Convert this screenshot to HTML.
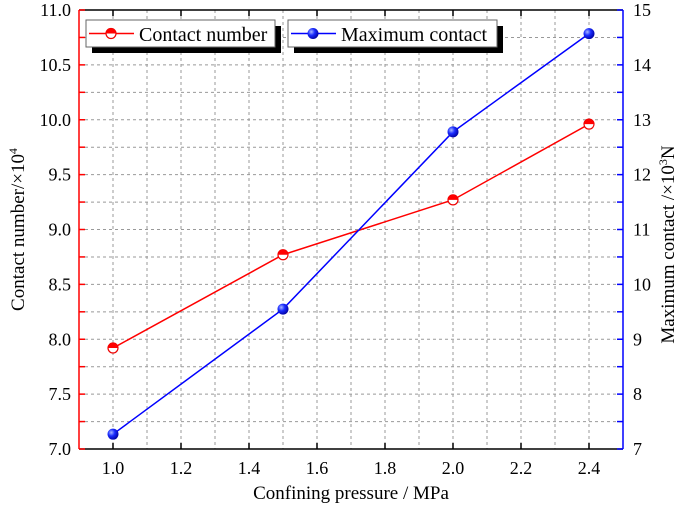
<!DOCTYPE html>
<html><head><meta charset="utf-8"><style>
body{margin:0;background:#fff;}
svg{display:block;font-family:"Liberation Serif",serif;}
</style></head><body>
<svg id="chart" width="685" height="508">
<defs>
<radialGradient id="ball" cx="0.35" cy="0.35" r="0.7"><stop offset="0" stop-color="#aab8ff"/><stop offset="0.45" stop-color="#1a2cff"/><stop offset="1" stop-color="#0000a0"/></radialGradient>
</defs>
<g id="grid"></g>
<g id="axes"></g>
<g id="series"></g>
<g id="legend"></g>
</svg>
<script>
const categories=[1.0,1.5,2.0,2.4];
const contactNumber=[7.92,8.77,9.27,9.96];
const maxContact=[7.27,9.55,12.78,14.57];
const xTicks=["1.0","1.2","1.4","1.6","1.8","2.0","2.2","2.4"];
const yLeftTicks=["7.0","7.5","8.0","8.5","9.0","9.5","10.0","10.5","11.0"];
const yRightTicks=["7","8","9","10","11","12","13","14","15"];

const L=79,R=623,T=10,B=449;
const NS="http://www.w3.org/2000/svg";
const sx=v=>L+(v-0.9)/1.6*(R-L);
const syL=v=>B-(v-7)/4*(B-T);
const syR=v=>B-(v-7)/8*(B-T);
function el(tag,attrs,parent,text){const e=document.createElementNS(NS,tag);for(const k in attrs)e.setAttribute(k,attrs[k]);if(text!==undefined)e.textContent=text;parent.appendChild(e);return e;}
const grid=document.getElementById('grid'),axes=document.getElementById('axes'),series=document.getElementById('series'),legend=document.getElementById('legend');

for(let i=1;i<16;i++){const x=sx(0.9+i*0.1);
 const g=el('line',{x1:x,x2:x,y1:T,y2:B,stroke:'#999','stroke-dasharray':'3,3','stroke-width':1},grid);
 
 }
for(let i=1;i<16;i++){const y=syL(7+i*0.25);
 const g=el('line',{x1:L,x2:R,y1:y,y2:y,stroke:'#999','stroke-dasharray':'3,3','stroke-width':1},grid);
 
 }

el('line',{x1:L,x2:R,y1:T,y2:T,stroke:'#000','stroke-width':1.5},axes);
el('line',{x1:L,x2:R,y1:B,y2:B,stroke:'#000','stroke-width':1.5},axes);
const la=el('line',{x1:L,x2:L,y1:T,y2:B,stroke:'#f00','stroke-width':1.5},axes);


const ra=el('line',{x1:R,x2:R,y1:T,y2:B,stroke:'#00f','stroke-width':1.5},axes);



for(let i=0;i<=16;i++){const x=sx(0.9+i*0.1);
 el('line',{x1:x,x2:x,y1:B,y2:B-(i%2?6:0),stroke:'#000','stroke-width':1.5},axes);
 el('line',{x1:x,x2:x,y1:T,y2:T+(i%2?6:0),stroke:'#000','stroke-width':1.5},axes);}
xTicks.forEach(t=>{const x=sx(parseFloat(t));
 const tx=el('text',{x:x,y:B+25,'text-anchor':'middle','font-size':18},axes,t);
 
 });
for(let i=0;i<=16;i++){const y=syL(7+i*0.25);
 el('line',{x1:L,x2:L+6,y1:y,y2:y,stroke:'#f00','stroke-width':1.5},axes);
 el('line',{x1:R,x2:R-6,y1:y,y2:y,stroke:'#00f','stroke-width':1.5},axes);}
yLeftTicks.forEach(t=>{const y=syL(parseFloat(t));
 const tx=el('text',{x:L-8,y:y+6,'text-anchor':'end','font-size':18},axes,t);
 
 });
yRightTicks.forEach(t=>{const y=syR(parseFloat(t));
 const tx=el('text',{x:R+10,y:y+6,'text-anchor':'start','font-size':18},axes,t);
 
 });

const xt=el('text',{x:(L+R)/2,y:499,'text-anchor':'middle','font-size':19},axes,'Confining pressure / MPa');


const yl=el('text',{transform:'translate(24,'+((T+B)/2)+') rotate(-90)','text-anchor':'middle','font-size':19},axes);
yl.innerHTML='Contact number/×10<tspan dy="-7" font-size="12">4</tspan>';


const yr=el('text',{transform:'translate(674,'+((T+B)/2+15)+') rotate(-90)','text-anchor':'middle','font-size':19},axes);
yr.innerHTML='Maximum contact /×10<tspan dy="-7" font-size="12">3</tspan><tspan dy="7">N</tspan>';



function halfMarker(x,y,p){
 el('circle',{cx:x,cy:y,r:5,fill:'#fff',stroke:'#e00','stroke-width':1.2},p);
 el('path',{d:`M${x-5},${y} A5,5 0 0 1 ${x+5},${y} Z`,fill:'#f00'},p);}
function ball(x,y,p){el('circle',{cx:x,cy:y,r:5.5,fill:'url(#ball)'},p);}

const p1=el('polyline',{points:categories.map((c,i)=>sx(c)+','+syL(contactNumber[i])).join(' '),fill:'none',stroke:'#f00','stroke-width':1.5},series);


const p2=el('polyline',{points:categories.map((c,i)=>sx(c)+','+syR(maxContact[i])).join(' '),fill:'none',stroke:'#00f','stroke-width':1.5},series);


categories.forEach((c,i)=>{
 const g=el('g',{},series);
 
 
 halfMarker(sx(c),syL(contactNumber[i]),g);
 const g2=el('g',{},series);
 
 
 ball(sx(c),syR(maxContact[i]),g2);});

function legBox(x,w,label,isBall,color,name){
 const g=el('g',{},legend);
 
 
 el('rect',{x:x+6,y:26,width:w,height:27,fill:'#000'},g);
 el('rect',{x:x,y:20,width:w,height:27,fill:'#fff',stroke:'#666','stroke-width':1},g);
 el('line',{x1:x+3,x2:x+48,y1:33.5,y2:33.5,stroke:color,'stroke-width':1.5},g);
 if(isBall)ball(x+25,33.5,g);else halfMarker(x+25,33.5,g);
 el('text',{x:x+53,y:41,'font-size':20},g,label);}
legBox(86,189,'Contact number',false,'#f00','legend-entry-contact-number');
legBox(288,209,'Maximum contact',true,'#00f','legend-entry-maximum-contact');
</script>
</body></html>
